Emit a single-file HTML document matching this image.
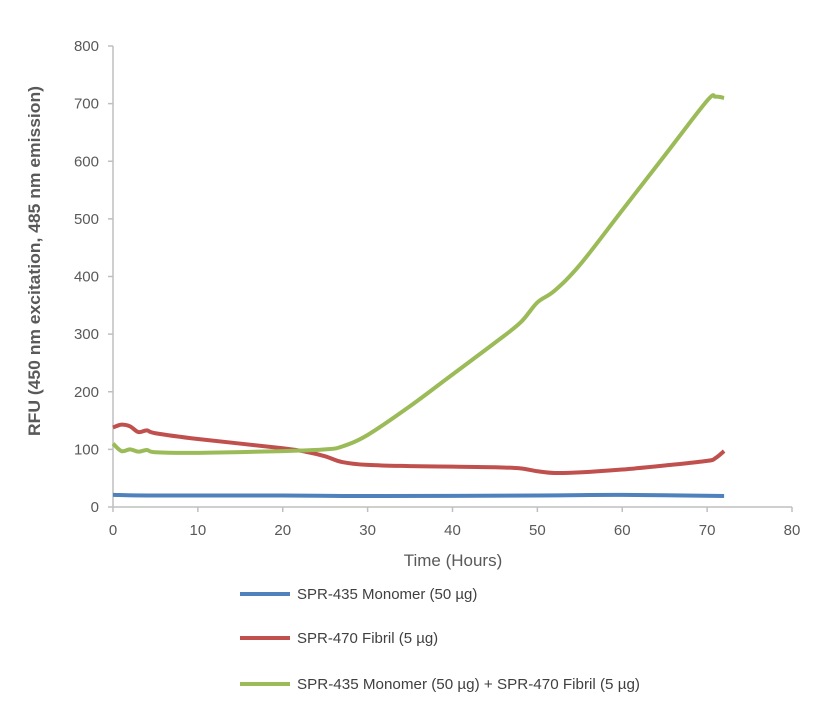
<!DOCTYPE html>
<html><head><meta charset="utf-8"><style>
body{margin:0;background:#fff;font-family:"Liberation Sans",sans-serif}
</style></head><body>
<svg id="chart" width="829" height="705" xmlns="http://www.w3.org/2000/svg" font-family="Liberation Sans, sans-serif">
<g id="axes"></g><g id="series"></g>
<text transform="translate(40,261) rotate(-90)" text-anchor="middle" font-size="17" font-weight="bold" fill="#595959" textLength="350" lengthAdjust="spacingAndGlyphs">RFU (450 nm excitation, 485 nm emission)</text>
<text x="453" y="566" text-anchor="middle" font-size="17" fill="#595959">Time (Hours)</text>
<g font-size="15" fill="#404040">
<line x1="240" y1="594" x2="290" y2="594" stroke="#4f81bd" stroke-width="4"/>
<text x="297" y="599">SPR-435 Monomer (50 µg)</text>
<line x1="240" y1="638" x2="290" y2="638" stroke="#c0504d" stroke-width="4"/>
<text x="297" y="643">SPR-470 Fibril (5 µg)</text>
<line x1="240" y1="684" x2="290" y2="684" stroke="#9bbb59" stroke-width="4"/>
<text x="297" y="689" textLength="343" lengthAdjust="spacingAndGlyphs">SPR-435 Monomer (50 µg) + SPR-470 Fibril (5 µg)</text>
</g>
</svg>
<script>
const xTicks=[0,10,20,30,40,50,60,70,80];
const yTicks=[0,100,200,300,400,500,600,700,800];
const blueT=[0,5,20,30,50,60,72];
const blueV=[21,20,20,19,20,21,19];
const redT=[0,1,2,3,4,5,10,20,23,25,27,30,35,40,45,48,50,52,55,60,65,70,71,72];
const redV=[138,143,140,130,133,128,118,102,95,88,78,73,71,70,69,67,62,59,60,65,72,80,85,97];
const greenT=[0,1,2,3,4,5,10,20,25,27,30,35,40,45,48,50,52,55,60,65,70,71,72];
const greenV=[110,97,100,96,99,95,94,97,100,105,125,175,230,285,320,355,375,420,515,610,705,712,710];
const X=v=>113+v*(792-113)/80, Y=v=>507-v*(507-46)/800;
const NS="http://www.w3.org/2000/svg";
const ax=document.getElementById('axes'), sr=document.getElementById('series');
function mk(p,tag,a){const e=document.createElementNS(NS,tag);for(const k in a)e.setAttribute(k,a[k]);p.appendChild(e);return e;}
let yl=mk(ax,'line',{x1:X(0),y1:Y(0),x2:X(0),y2:Y(800),stroke:'#bfbfbf','stroke-width':1.5});


let xl=mk(ax,'line',{x1:X(0),y1:Y(0),x2:X(80),y2:Y(0),stroke:'#bfbfbf','stroke-width':1.5});


yTicks.forEach(v=>{
 mk(ax,'line',{x1:X(0)-5,y1:Y(v),x2:X(0),y2:Y(v),stroke:'#bfbfbf','stroke-width':1.5});
 let t=mk(ax,'text',{x:X(0)-14,y:Y(v)+5,'text-anchor':'end','font-size':15,fill:'#595959'});t.textContent=v;
 
 
});
xTicks.forEach(v=>{
 mk(ax,'line',{x1:X(v),y1:Y(0),x2:X(v),y2:Y(0)+5,stroke:'#bfbfbf','stroke-width':1.5});
 let t=mk(ax,'text',{x:X(v),y:Y(0)+28,'text-anchor':'middle','font-size':15,fill:'#595959'});t.textContent=v;
 
 
});
function path(ts,vs){
 const p=ts.map((t,i)=>[X(t),Y(vs[i])]);let d='M'+p[0];
 for(let i=0;i<p.length-1;i++){const p0=p[i-1]||p[i],p1=p[i],p2=p[i+1],p3=p[i+2]||p2;
  const c1=[p1[0]+(p2[0]-p0[0])/6,p1[1]+(p2[1]-p0[1])/6],c2=[p2[0]-(p3[0]-p1[0])/6,p2[1]-(p3[1]-p1[1])/6];
  d+='C'+c1+' '+c2+' '+p2;}
 return d;}
let s1=mk(sr,'path',{d:path(blueT,blueV),fill:'none',stroke:'#4f81bd','stroke-width':4});


let s2=mk(sr,'path',{d:path(redT,redV),fill:'none',stroke:'#c0504d','stroke-width':4});


let s3=mk(sr,'path',{d:path(greenT,greenV),fill:'none',stroke:'#9bbb59','stroke-width':4});


</script>
</body></html>
